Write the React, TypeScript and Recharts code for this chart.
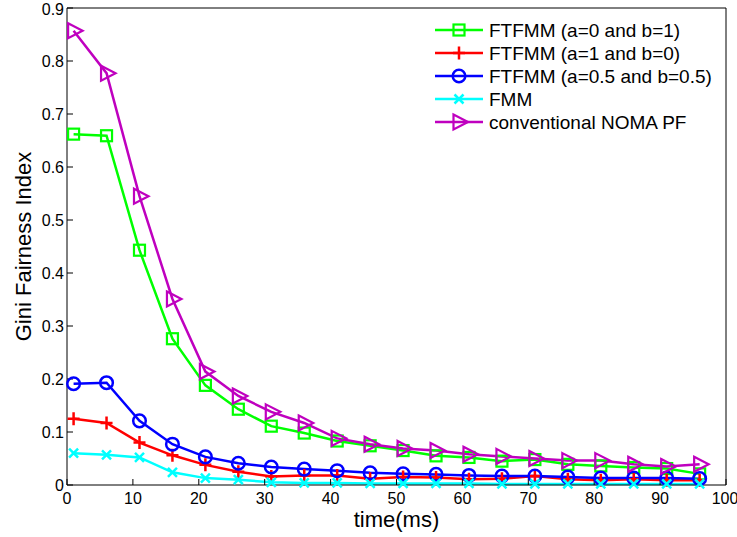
import React from 'react'
import { LineChart, Line, XAxis, YAxis, Legend, Label } from 'recharts'

// time axis (ms)
const timeMs = [1, 6, 11, 16, 21, 26, 31, 36, 41, 46, 51, 56, 61, 66, 71, 76, 81, 86, 91, 96]

const ftfmmA0B1 = [0.662, 0.659, 0.443, 0.276, 0.188, 0.143, 0.111, 0.098, 0.083, 0.074, 0.065, 0.055, 0.052, 0.045, 0.048, 0.039, 0.036, 0.033, 0.031, 0.021]
const ftfmmA1B0 = [0.125, 0.117, 0.08, 0.056, 0.038, 0.025, 0.016, 0.018, 0.018, 0.012, 0.015, 0.014, 0.011, 0.012, 0.017, 0.011, 0.009, 0.011, 0.009, 0.009]
const ftfmmHalf = [0.191, 0.193, 0.121, 0.077, 0.053, 0.041, 0.034, 0.03, 0.027, 0.023, 0.021, 0.02, 0.018, 0.017, 0.017, 0.015, 0.013, 0.013, 0.013, 0.012]
const fmm = [0.06, 0.057, 0.052, 0.024, 0.013, 0.01, 0.005, 0.004, 0.004, 0.003, 0.003, 0.003, 0.003, 0.002, 0.002, 0.002, 0.002, 0.002, 0.002, 0.002]
const nomaPf = [0.857, 0.777, 0.545, 0.351, 0.214, 0.168, 0.138, 0.117, 0.088, 0.077, 0.069, 0.065, 0.058, 0.054, 0.05, 0.046, 0.046, 0.039, 0.035, 0.039]

const xTicks = [0, 10, 20, 30, 40, 50, 60, 70, 80, 90, 100]
const yTicks = [0, 0.1, 0.2, 0.3, 0.4, 0.5, 0.6, 0.7, 0.8, 0.9]

const SERIES = [
  { key: 'g', name: 'FTFMM (a=0 and b=1)', color: '#00FF00', shape: 'square', values: ftfmmA0B1 },
  { key: 'r', name: 'FTFMM (a=1 and b=0)', color: '#FF0000', shape: 'plus', values: ftfmmA1B0 },
  { key: 'b', name: 'FTFMM (a=0.5 and b=0.5)', color: '#0000FF', shape: 'circle', values: ftfmmHalf },
  { key: 'c', name: 'FMM', color: '#00FFFF', shape: 'x', values: fmm },
  { key: 'm', name: 'conventional NOMA PF', color: '#BF00BF', shape: 'tri', values: nomaPf },
]

const data = timeMs.map((t, i) => {
  const row: any = { t }
  SERIES.forEach((s) => (row[s.key] = s.values[i]))
  return row
})

const FONT = '"Liberation Sans", Arial, Helvetica, sans-serif'

function Marker({ shape, cx, cy, color }: { shape: string; cx: number; cy: number; color: string }) {
  switch (shape) {
    case 'square':
      return <rect x={cx - 5.5} y={cy - 5.5} width={11} height={11} fill="none" stroke={color} strokeWidth={2.2} />
    case 'plus':
      return <path d={`M${cx - 6},${cy}H${cx + 6}M${cx},${cy - 6.5}V${cy + 6.5}`} stroke={color} strokeWidth={2.5} fill="none" />
    case 'circle':
      return <circle cx={cx} cy={cy} r={6.3} fill="none" stroke={color} strokeWidth={2.5} />
    case 'x':
      return <path d={`M${cx - 4.5},${cy - 4.5}L${cx + 4.5},${cy + 4.5}M${cx - 4.5},${cy + 4.5}L${cx + 4.5},${cy - 4.5}`} stroke={color} strokeWidth={2.5} fill="none" />
    case 'tri':
    default:
      return <path d={`M${cx - 5.5},${cy - 7.5}L${cx + 9},${cy}L${cx - 5.5},${cy + 7.5}Z`} stroke={color} strokeWidth={2.2} fill="none" strokeLinejoin="miter" />
  }
}

function LegendBox() {
  return (
    <svg width={300} height={118} style={{ display: 'block' }}>
      {SERIES.map((s, i) => {
        const y = 12 + i * 23
        return (
          <g key={s.key}>
            <line x1={5} x2={53} y1={y} y2={y} stroke={s.color} strokeWidth={2.5} />
            <Marker shape={s.shape} cx={29} cy={y} color={s.color} />
            <text x={59} y={y + 7} fontSize={19} fontFamily={FONT} fill="#000">
              {s.name}
            </text>
          </g>
        )
      })}
    </svg>
  )
}

export default function App() {
  return (
    <div style={{ position: 'absolute', left: 0, top: 0, background: '#fff' }}>
      <LineChart width={737} height={537} data={data} margin={{ top: 7, right: 10, bottom: 7, left: 17 }}>
        <XAxis
          xAxisId="b"
          dataKey="t"
          type="number"
          domain={[0, 100]}
          ticks={xTicks}
          height={45}
          stroke="#000"
          tickSize={-6}
          tickMargin={14}
          tick={{ fill: '#000', fontSize: 16, fontFamily: FONT }}
        >
          <Label value="time(ms)" position="insideBottom" offset={3} style={{ fill: '#000', fontSize: 22, fontFamily: FONT }} />
        </XAxis>
        <XAxis
          xAxisId="t"
          orientation="top"
          dataKey="t"
          type="number"
          domain={[0, 100]}
          ticks={xTicks}
          height={1}
          stroke="#000"
          tickSize={-6}
          tick={false}
        />
        <YAxis
          yAxisId="l"
          type="number"
          domain={[0, 0.9]}
          ticks={yTicks}
          width={50}
          stroke="#000"
          tickSize={-6}
          tickMargin={9}
          tickFormatter={(v: number) => (v === 0 ? '0' : v.toFixed(1))}
          tick={{ fill: '#000', fontSize: 16, fontFamily: FONT }}
        >
          <Label
            value="Gini Fairness Index"
            angle={-90}
            position="insideLeft"
            offset={6}
            style={{ fill: '#000', fontSize: 22, fontFamily: FONT, textAnchor: 'middle' }}
          />
        </YAxis>
        <YAxis
          yAxisId="r"
          orientation="right"
          type="number"
          domain={[0, 0.9]}
          ticks={yTicks}
          width={1}
          stroke="#000"
          tickSize={-6}
          tick={false}
        />
        <Legend
          layout="vertical"
          align="center"
          verticalAlign="middle"
          content={() => <LegendBox />}
          wrapperStyle={{ left: 430, top: 18, width: 300, height: 118 }}
        />
        {SERIES.map((s) => (
          <Line
            key={s.key}
            xAxisId="b"
            yAxisId="l"
            type="linear"
            dataKey={s.key}
            name={s.name}
            stroke={s.color}
            strokeWidth={2.5}
            isAnimationActive={false}
            activeDot={false}
            dot={(p: any) => <Marker key={`${s.key}-${p.index}`} shape={s.shape} cx={p.cx} cy={p.cy} color={s.color} />}
          />
        ))}
      </LineChart>
    </div>
  )
}
